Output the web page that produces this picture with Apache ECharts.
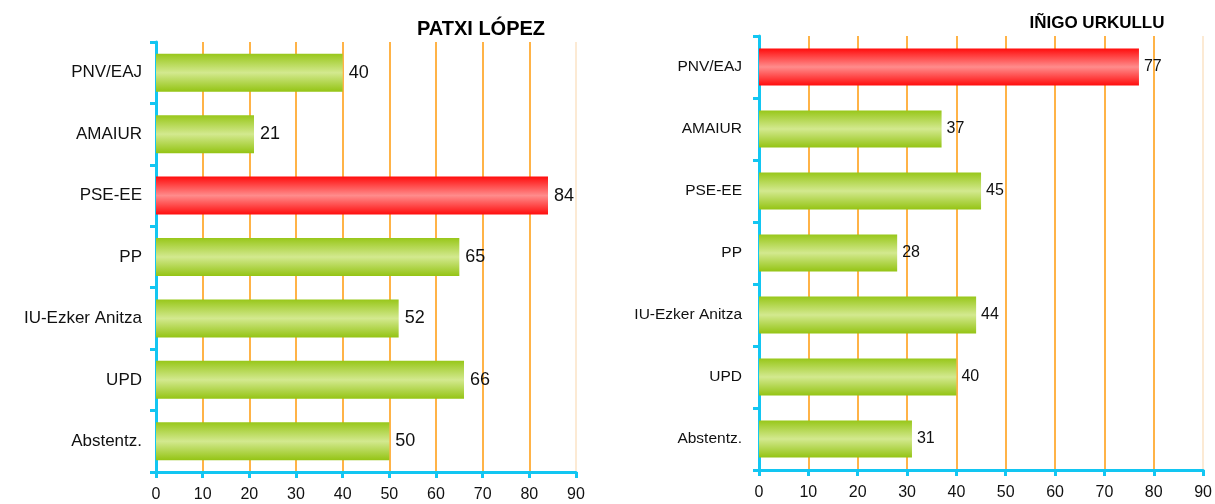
<!DOCTYPE html>
<html>
<head>
<meta charset="utf-8">
<script src="https://cdn.jsdelivr.net/npm/echarts@6/dist/echarts.min.js"></script>
<style>
  html, body { margin: 0; padding: 0; background: #fff; }
  #chart { width: 1215px; height: 504px; }
</style>
</head>
<body>
<div id="chart"></div>
<script>
// categories, shared by both panels
var parties = ['PNV/EAJ', 'AMAIUR', 'PSE-EE', 'PP', 'IU-Ezker Anitza', 'UPD', 'Abstentz.'];

// left panel
var lopezTitle = 'PATXI LÓPEZ';
var lopezValues = [40, 21, 84, 65, 52, 66, 50];
var lopezHighlight = 2;

// right panel
var urkulluTitle = 'IÑIGO URKULLU';
var urkulluValues = [77, 37, 45, 28, 44, 40, 31];
var urkulluHighlight = 0;

var xTicks = [0, 10, 20, 30, 40, 50, 60, 70, 80, 90];

var blue = '#12C6F2';
var orange = '#FF9A0A';

function grad(top, mid, bot) {
    return new echarts.graphic.LinearGradient(0, 0, 0, 1, [
        {offset: 0, color: top},
        {offset: 0.5, color: mid},
        {offset: 1, color: bot}
    ]);
}
var greenFill = grad('#98C71A', '#D3E98F', '#94C414');
var redFill = grad('#FF0D0D', '#FF8C8C', '#FF0D0D');

function barData(values, hi) {
    return values.map(function (v, i) {
        return {value: v, itemStyle: {color: i === hi ? redFill : greenFill}};
    });
}

// split line colours: orange inside, a pale one on the right border
var splitColors = xTicks.map(function (t, i) {
    return i === xTicks.length - 1 ? '#FBE3C6' : orange;
});

function xAxis(idx, fs) {
    return {
        type: 'value', gridIndex: idx, min: 0, max: 90, interval: 10,
        axisLine: {show: true, lineStyle: {color: blue, width: 3}},
        axisTick: {show: true, length: 6, lineStyle: {color: blue, width: 3}},
        axisLabel: {color: '#111', fontSize: fs, margin: 15, fontFamily: 'Liberation Sans'},
        splitLine: {show: true, lineStyle: {color: splitColors, width: 1.5}}
    };
}

function yAxis(idx, fs, margin) {
    return {
        type: 'category', gridIndex: idx, data: parties, inverse: true,
        axisLine: {show: true, lineStyle: {color: blue, width: 3}},
        axisTick: {show: true, length: 6, lineStyle: {color: blue, width: 3}},
        axisLabel: {color: '#111', fontSize: fs, margin: margin, fontFamily: 'Liberation Sans'},
        splitLine: {show: false}
    };
}

var chart = echarts.init(document.getElementById('chart'));
chart.setOption({
    animation: false,
    title: [
        {text: lopezTitle, left: 476, top: 14, textAlign: 'center',
            textStyle: {fontSize: 20, fontWeight: 'bold', color: '#000', fontFamily: 'Liberation Sans'}},
        {text: urkulluTitle, left: 1092, top: 10, textAlign: 'center',
            textStyle: {fontSize: 17, fontWeight: 'bold', color: '#000', fontFamily: 'Liberation Sans'}}
    ],
    grid: [
        {left: 156, top: 42, width: 420, height: 430},
        {left: 759, top: 36, width: 445, height: 434}
    ],
    xAxis: [xAxis(0, 16), xAxis(1, 16)],
    yAxis: [yAxis(0, 17, 14), yAxis(1, 15.5, 17)],
    series: [
        {
            type: 'bar', xAxisIndex: 0, yAxisIndex: 0, barWidth: 38,
            data: barData(lopezValues, lopezHighlight),
            label: {show: true, position: 'right', distance: 6, color: '#111', fontSize: 18, fontFamily: 'Liberation Sans'}
        },
        {
            type: 'bar', xAxisIndex: 1, yAxisIndex: 1, barWidth: 37,
            data: barData(urkulluValues, urkulluHighlight),
            label: {show: true, position: 'right', distance: 5, color: '#111', fontSize: 16, fontFamily: 'Liberation Sans'}
        }
    ]
});
</script>
</body>
</html>
